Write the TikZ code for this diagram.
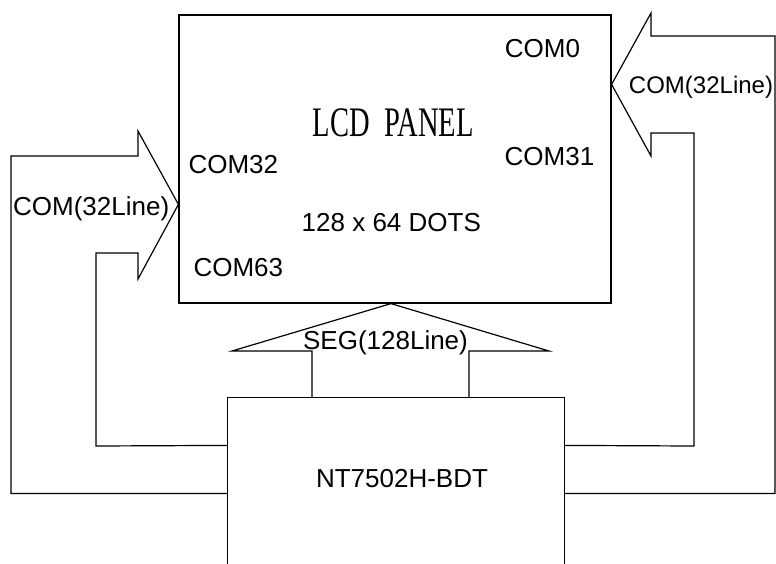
\documentclass[tikz,border=0pt]{standalone}
\usepackage{fontspec}
\setmainfont{Liberation Sans}
\newfontfamily\panelfont[FakeStretch=0.68]{Liberation Serif}
\usetikzlibrary{positioning}
\usetikzlibrary{calc}

\begin{document}
\begin{tikzpicture}[x=1pt,y=-1pt,line width=1.2pt,
  lbl/.style={anchor=base,inner sep=0pt,font=\fontsize{26}{30}\selectfont},
  box/.style={rectangle,inner sep=0pt}]
\useasboundingbox (0,0) rectangle (776,563);
\clip (0,0) rectangle (776,563);

% panel and driver
\node [box, draw, minimum width=432pt, minimum height=288pt] (panel) at (395,159) {};
\node [box, minimum width=336pt, minimum height=202pt] (chip) at (396,499) {};
\draw (chip.south west) |- (chip.north east) -- (chip.south east);

% texts
\node [lbl] (com0) at (542.5,57) {COM0};
\node [lbl] (com31) at (549.5,165) {COM31};
\node [lbl] (com32) at (233.3,173) {COM32};
\node [lbl] (com63) at (238.3,276.7) {COM63};
\node [lbl] (dots) at (391.3,231.7) {128 x 64 DOTS};
\node [lbl, font=\panelfont\fontsize{42}{46}\selectfont] (title) at (393.3,136) {LCD~~PANEL};
\node [lbl] (comL) at (91.2,215) {COM(32Line)};
\node [lbl, font=\fontsize{24}{28}\selectfont] (comR) at (701,93.5) {COM(32Line)};
\node [lbl] (seg) at (385.5,349) {SEG(128Line)};
\node [lbl] (chipname) at (402,487) {NT7502H-BDT};

% COM bus, left
\draw ($(chip.north west)+(0,96)$) -| (11,156) -- (138,156) -- (138,131)
  -- ($(panel.north west)+(0,190)$) -- (138,279) -- (138,253) -| (96,446)
  -- ($(chip.north west)+(0,48)$);
% COM bus, right
\draw ($(chip.north east)+(0,96)$) -| (775,36) -- (651,36) -- (651,13)
  -- ($(panel.north east)+(0,70)$) -- (651,156) -- (651,133) -| (694,446)
  -- ($(chip.north east)+(0,48)$);
% SEG bus
\draw (chip.north -| 312,0) -- (312,351) -- (232,351) -- ($(panel.south)+(-4,0)$)
  -- (549,351) -- (469,351) -- (chip.north -| 469,0);
\end{tikzpicture}
\end{document}
